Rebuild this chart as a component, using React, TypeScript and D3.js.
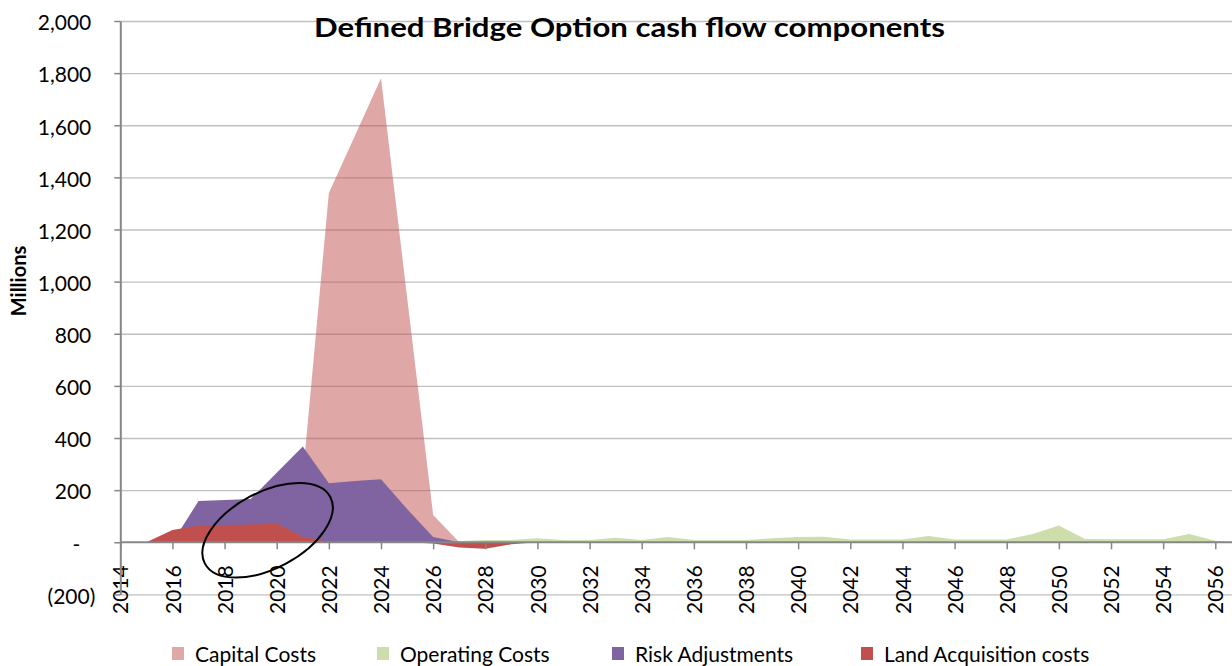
import { useEffect, useRef } from 'react'
import * as d3 from 'd3'

// categories (one point per year, area drawn "on tick marks")
const years = [
  2014, 2015, 2016, 2017, 2018, 2019, 2020, 2021, 2022, 2023, 2024,
  2025, 2026, 2027, 2028, 2029, 2030, 2031, 2032, 2033, 2034, 2035,
  2036, 2037, 2038, 2039, 2040, 2041, 2042, 2043, 2044, 2045, 2046,
  2047, 2048, 2049, 2050, 2051, 2052, 2053, 2054, 2055, 2056, 2057
]

const capitalCosts = [
  0, 0, 0, 0, 0, 0, 0, 250, 1340, 1560, 1780,
  940, 105, 0, 0, 0, 0, 0, 0, 0, 0, 0,
  0, 0, 0, 0, 0, 0, 0, 0, 0, 0, 0,
  0, 0, 0, 0, 0, 0, 0, 0, 0, 0, 0
]

const operatingCosts = [
  0, 0, 0, 0, 0, 0, 0, 0, 0, 0, 0,
  0, 0, 5, 9, 9, 15, 9, 9, 17, 9, 20,
  9, 9, 9, 15, 20, 21, 11, 11, 11, 24, 11,
  11, 11, 32, 64, 13, 12, 12, 12, 32, 6, 0
]

const riskAdjustments = [
  0, 0, 0, 158, 162, 166, 267, 367, 226, 235, 242,
  128, 20, 0, 0, 0, 0, 0, 0, 0, 0, 0,
  0, 0, 0, 0, 0, 0, 0, 0, 0, 0, 0,
  0, 0, 0, 0, 0, 0, 0, 0, 0, 0, 0
]

const landAcquisition = [
  0, 0, 47, 64, 66, 68, 73, 21, 2, 0, 0,
  0, -5, -20, -25, -8, 0, 0, 0, 0, 0, 0,
  0, 0, 0, 0, 0, 0, 0, 0, 0, 0, 0,
  0, 0, 0, 0, 0, 0, 0, 0, 0, 0, 0
]

const yTicks = [-200, 0, 200, 400, 600, 800, 1000, 1200, 1400, 1600, 1800, 2000]
const xTickYears = [
  2014, 2016, 2018, 2020, 2022, 2024, 2026, 2028, 2030, 2032, 2034,
  2036, 2038, 2040, 2042, 2044, 2046, 2048, 2050, 2052, 2054, 2056
]

// hand-drawn annotation ellipse, centred in data units
const ellipseCenter = { year: 2019.65, value: 46 }

const WIDTH = 1232
const HEIGHT = 666
const FONT = 'Lato, "Liberation Sans", Arial, sans-serif'

function App() {
  const svgRef = useRef<SVGSVGElement>(null)

  useEffect(() => {
    if (!svgRef.current) return
    const svg = d3.select(svgRef.current)
    svg.selectAll('*').remove()

    const left = 120.3
    const x = d3.scaleLinear().domain([2014, 2056]).range([left, 1215.3])
    const y = d3.scaleLinear().domain([-200, 2000]).range([594.4, 21])

    // gridlines
    svg.append('g')
      .attr('transform', `translate(${left},0)`)
      .call(d3.axisLeft(y)
        .tickValues(yTicks.filter(v => v !== 0))
        .tickSize(-(WIDTH - left))
        .tickFormat(() => ''))
      .call(g => g.select('.domain').remove())
      .selectAll('line')
      .attr('stroke', '#c0c0c0')
      .attr('stroke-width', 1.3)

    // series, drawn back to front like the spreadsheet does
    const series = [
      { name: 'Capital Costs', values: capitalCosts, color: '#C0504D', opacity: 0.5 },
      { name: 'Operating Costs', values: operatingCosts, color: '#9BBB59', opacity: 0.5 },
      { name: 'Risk Adjustments', values: riskAdjustments, color: '#8064A2', opacity: 1 },
      { name: 'Land Acquisition costs', values: landAcquisition, color: '#C0504D', opacity: 1 }
    ]

    const area = d3.area<number>()
      .x((d, i) => x(years[i]))
      .y0(y(0))
      .y1(d => y(d))

    svg.append('g')
      .selectAll('path')
      .data(series)
      .enter().append('path')
      .attr('d', d => area(d.values))
      .attr('fill', d => d.color)
      .attr('fill-opacity', d => d.opacity)

    const axisColor = '#868686'

    // x axis
    const xAxis = svg.append('g')
      .attr('transform', `translate(0,${y(0)})`)
      .call(d3.axisBottom(x)
        .tickValues(xTickYears)
        .tickSize(7)
        .tickSizeOuter(0)
        .tickFormat(d3.format('d')))
    xAxis.select('.domain').remove()
    xAxis.append('line')
      .attr('x1', left).attr('x2', WIDTH)
      .attr('y1', 0).attr('y2', 0)
      .attr('stroke', axisColor)
      .attr('stroke-width', 2)
    xAxis.selectAll('.tick line')
      .attr('stroke', axisColor)
      .attr('stroke-width', 1.5)
    xAxis.selectAll('.tick text')
      .attr('transform', 'rotate(-90)')
      .attr('x', -23)
      .attr('y', 0)
      .attr('dy', '0.36em')
      .attr('text-anchor', 'end')
      .attr('fill', '#000')
      .style('font-family', FONT)
      .style('font-size', '21px')

    // y axis
    const fmt = d3.format(',')
    const yAxis = svg.append('g')
      .attr('transform', `translate(${left},0)`)
      .call(d3.axisLeft(y)
        .tickValues(yTicks)
        .tickSize(6)
        .tickSizeOuter(0)
        .tickFormat(v => {
          const n = +v
          if (n === 0) return '-'
          return n < 0 ? `(${fmt(-n)})` : fmt(n)
        }))
    yAxis.select('.domain')
      .attr('stroke', axisColor)
      .attr('stroke-width', 2)
    yAxis.selectAll('.tick line')
      .attr('stroke', axisColor)
      .attr('stroke-width', 1.5)
    yAxis.selectAll<SVGTextElement, number>('.tick text')
      .attr('x', d => (d === 0 ? -40 : d < 0 ? -25 : -29))
      .attr('dy', '0.42em')
      .attr('fill', '#000')
      .style('font-family', FONT)
      .style('font-size', '21px')

    // y axis title
    svg.append('text')
      .attr('transform', `translate(26,281) rotate(-90)`)
      .attr('text-anchor', 'middle')
      .style('font-family', FONT)
      .style('font-size', '20px')
      .style('font-weight', 'bold')
      .text('Millions')

    // chart title
    svg.append('text')
      .attr('x', 314)
      .attr('y', 37)
      .attr('textLength', 631)
      .attr('lengthAdjust', 'spacingAndGlyphs')
      .style('font-family', FONT)
      .style('font-size', '26px')
      .style('font-weight', 'bold')
      .text('Defined Bridge Option cash flow components')

    // annotation ellipse
    svg.append('ellipse')
      .attr('transform', `translate(${x(ellipseCenter.year)},${y(ellipseCenter.value)}) rotate(-28)`)
      .attr('rx', 71)
      .attr('ry', 38)
      .attr('fill', 'none')
      .attr('stroke', '#000')
      .attr('stroke-width', 2)

    // legend
    const legendX = [172, 377, 612, 861]
    const legend = svg.append('g')
    series.forEach((s, i) => {
      const item = legend.append('g').attr('transform', `translate(${legendX[i]},647)`)
      item.append('rect')
        .attr('width', 12)
        .attr('height', 13)
        .attr('fill', s.color)
        .attr('fill-opacity', s.opacity)
      item.append('text')
        .attr('x', 23)
        .attr('y', 15)
        .style('font-family', FONT)
        .style('font-size', '21px')
        .text(s.name)
    })
  }, [])

  return (
    <svg
      ref={svgRef}
      width={WIDTH}
      height={HEIGHT}
      style={{ position: 'absolute', left: 0, top: 0, background: '#fff' }}
    />
  )
}

export default App
